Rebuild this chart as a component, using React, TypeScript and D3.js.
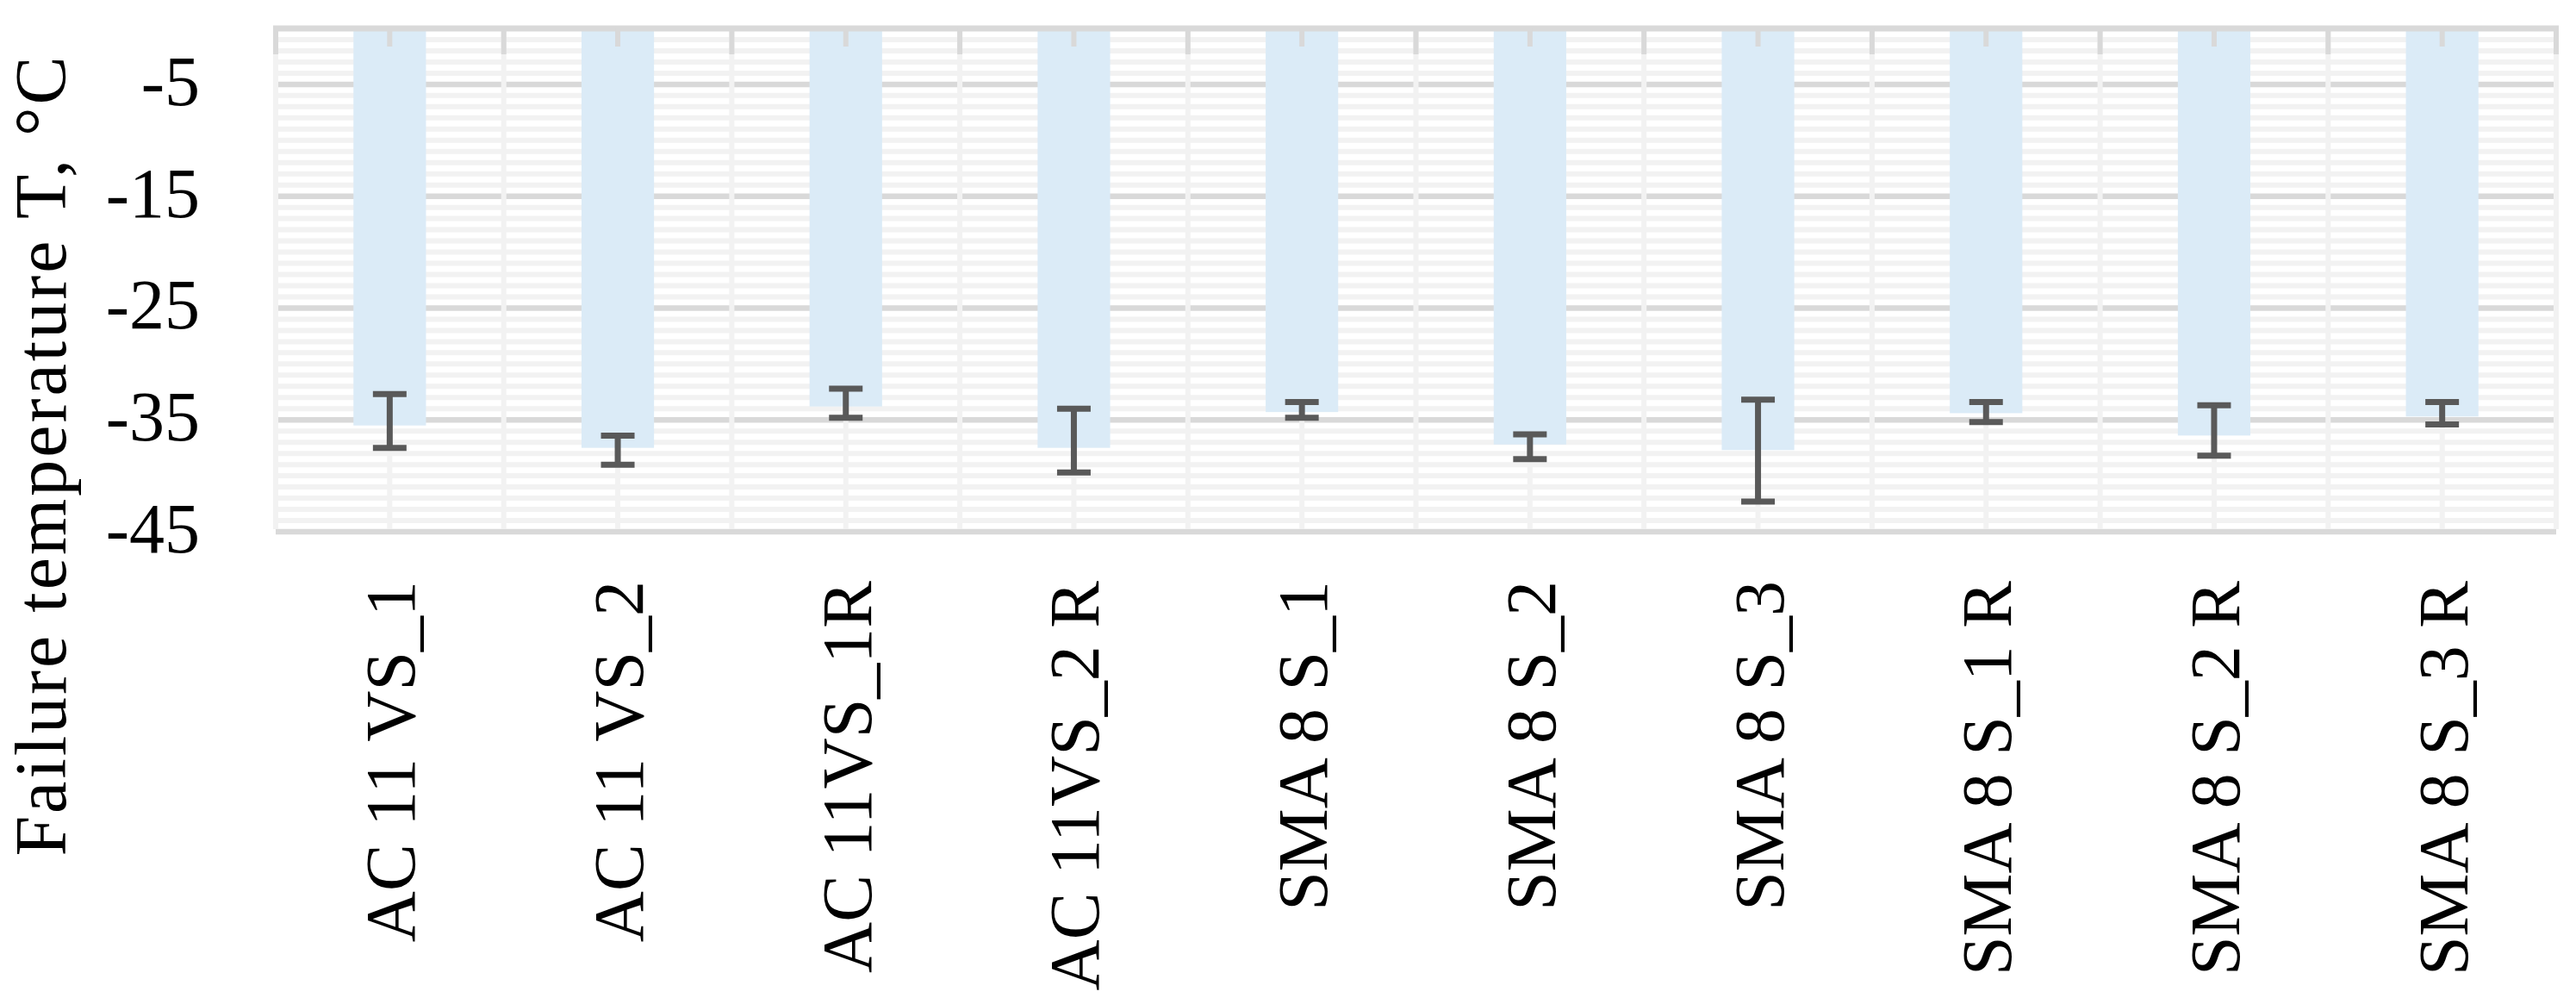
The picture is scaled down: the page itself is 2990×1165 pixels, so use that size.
import React from "react";
import * as d3 from "d3";

const width = 2990;
const height = 1165;
const plot = { left: 320, right: 2967, top: 33, bottom: 617 };

// Categories and values
const categories = [
  "AC 11 VS_1",
  "AC 11 VS_2",
  "AC 11VS_1R",
  "AC 11VS_2 R",
  "SMA 8 S_1",
  "SMA 8 S_2",
  "SMA 8 S_3",
  "SMA 8 S_1 R",
  "SMA 8 S_2 R",
  "SMA 8 S_3 R",
];
const meanTemp = [-35.5, -37.5, -33.8, -37.5, -34.3, -37.2, -37.7, -34.4, -36.4, -34.7];
const errUpper = [-32.7, -36.4, -32.2, -34.0, -33.4, -36.3, -33.2, -33.4, -33.7, -33.4];
const errLower = [-37.5, -39.0, -34.8, -39.7, -34.8, -38.5, -42.3, -35.2, -38.2, -35.4];
const yTicks = [-5, -15, -25, -35, -45];

const font = "'Palatino Linotype', 'Book Antiqua', Palatino, 'Liberation Serif', serif";
const minorColor = "#f2f2f2";
const majorColor = "#d9d9d9";
const barColor = "#dbebf7";
const errColor = "#595959";

export default function App() {
  const x = d3
    .scaleBand<string>()
    .domain(categories)
    .range([plot.left, plot.right])
    .padding(0);
  const y = d3.scaleLinear().domain([0, -45]).range([plot.top, plot.bottom]);

  const bw = x.bandwidth();
  const barW = bw * 0.318;

  // minor gridlines every 1 degree, major every 10 (from -5)
  const minorVals = d3.range(-1, -45, -1).filter((v) => !yTicks.includes(v));
  const boundaries = d3.range(categories.length + 1).map((i) => plot.left + i * bw);
  const centers = categories.map((c) => (x(c) as number) + bw / 2);

  return (
    <div style={{ position: "absolute", left: 0, top: 0 }}>
      <svg width={width} height={height} style={{ display: "block", background: "#fff" }}>
        {/* horizontal gridlines */}
        {minorVals.map((v) => (
          <line key={"mn" + v} x1={plot.left} x2={plot.right} y1={y(v)} y2={y(v)}
            stroke={minorColor} strokeWidth={6} />
        ))}
        {yTicks.map((v) => (
          <line key={"mj" + v} x1={plot.left} x2={plot.right} y1={y(v)} y2={y(v)}
            stroke={majorColor} strokeWidth={6.5} />
        ))}

        {/* vertical gridlines at boundaries and centres */}
        {[...boundaries, ...centers].map((px, i) => (
          <line key={"vg" + i} x1={px} x2={px} y1={plot.top} y2={plot.bottom - 3}
            stroke={minorColor} strokeWidth={6} />
        ))}

        {/* bars */}
        {categories.map((c, i) => (
          <rect key={c} x={centers[i] - barW / 2} y={y(0)} width={barW}
            height={y(meanTemp[i]) - y(0)} fill={barColor} />
        ))}

        {/* category axis at 0 with tick marks */}
        <line x1={plot.left - 3} x2={plot.right + 3} y1={y(0)} y2={y(0)}
          stroke={majorColor} strokeWidth={7} />
        {boundaries.map((px, i) => (
          <line key={"tb" + i} x1={px} x2={px} y1={y(0)} y2={y(0) + 30}
            stroke={majorColor} strokeWidth={6} />
        ))}
        {centers.map((px, i) => (
          <line key={"tc" + i} x1={px} x2={px} y1={y(0)} y2={y(0) + 21}
            stroke={majorColor} strokeWidth={6} />
        ))}

        {/* error bars */}
        {categories.map((c, i) => {
          const cx = centers[i];
          const yt = y(errUpper[i]);
          const yb = y(errLower[i]);
          return (
            <g key={"e" + c} stroke={errColor} strokeWidth={7}>
              <line x1={cx} x2={cx} y1={yt} y2={yb} />
              <line x1={cx - 19.5} x2={cx + 19.5} y1={yt} y2={yt} />
              <line x1={cx - 19.5} x2={cx + 19.5} y1={yb} y2={yb} />
            </g>
          );
        })}

        {/* y tick labels */}
        {yTicks.map((v) => (
          <text key={"yl" + v} x={232} y={y(v) + 24} textAnchor="end"
            fontFamily={font} fontSize={82} fill="#000">
            {v}
          </text>
        ))}

        {/* category labels */}
        {categories.map((c, i) => (
          <text key={"cl" + c} transform={`translate(${centers[i] + 29},674) rotate(-90)`}
            textAnchor="end" fontFamily={font} fontSize={82} fill="#000">
            {c}
          </text>
        ))}

        {/* y axis title */}
        <text transform="translate(76,528) rotate(-90)" textAnchor="middle"
          fontFamily={font} fontSize={84} letterSpacing={3} fill="#000">
          Failure temperature T, °C
        </text>
      </svg>
    </div>
  );
}
